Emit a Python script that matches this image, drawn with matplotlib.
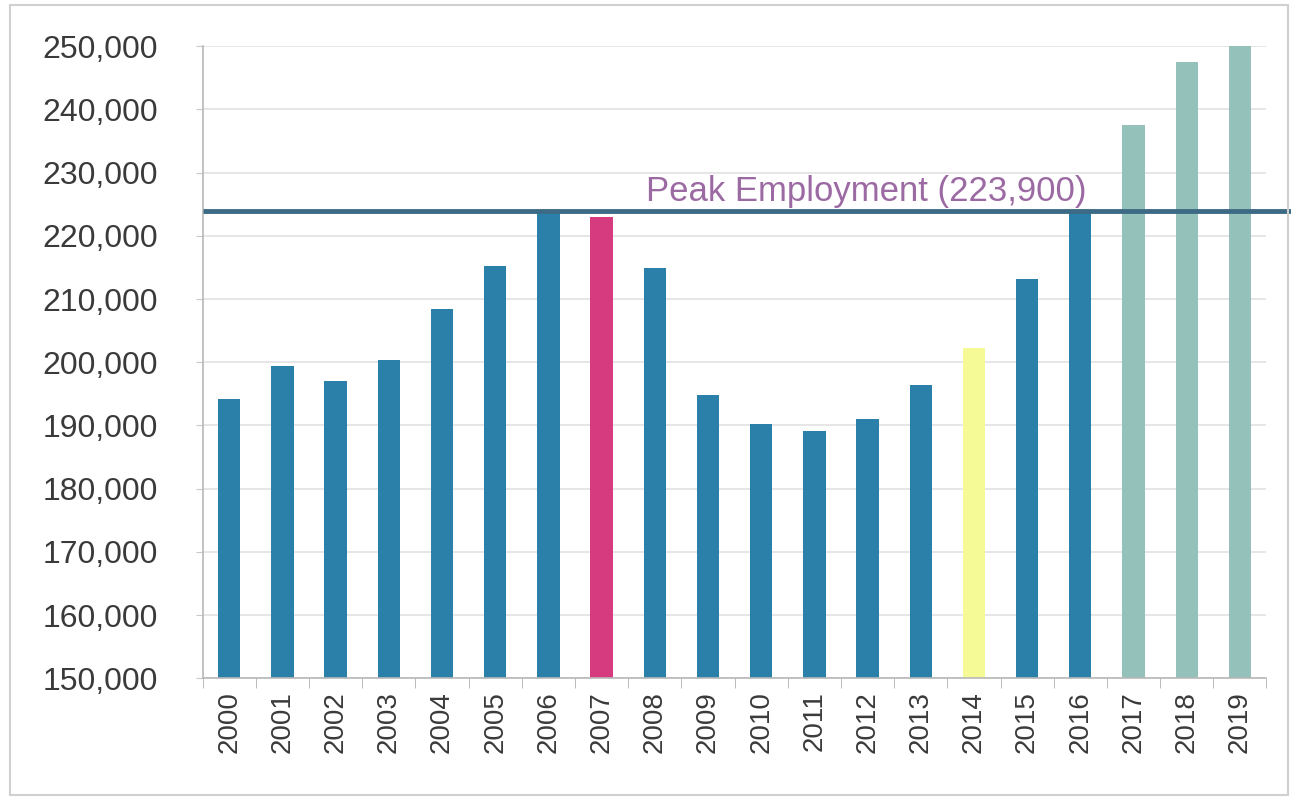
import matplotlib.pyplot as plt
from matplotlib.patches import Rectangle
from matplotlib.ticker import FuncFormatter, FixedLocator

years = [str(y) for y in range(2000, 2020)]
jobs = [194200, 199400, 197000, 200300, 208400, 215200, 223900, 223000,
        214900, 194900, 190200, 189200, 191100, 196400, 202300, 213100,
        223600, 237500, 247500, 250000]
peak = 223900

# colour groups: actual, recession start, current year, forecast
blue = '#2b80a9'
pink = '#d63b80'
yellow = '#f6fa96'
forecast = '#94c2bb'
bar_colors = [blue] * 7 + [pink] + [blue] * 6 + [yellow] + [blue] * 2 + [forecast] * 3

plt.rcParams['font.family'] = ['Liberation Sans', 'DejaVu Sans']

fig = plt.figure(figsize=(12.91, 7.98), dpi=100)
ax = fig.add_axes([0.157, 0.150, 0.824, 0.792])

x = range(len(years))
ax.bar(x, jobs, width=0.42, color=bar_colors, zorder=2)

ax.set_ylim(150000, 250000)
ax.set_xlim(-0.5, len(years) - 0.5)
ax.set_yticks(range(150000, 250001, 10000))
ax.yaxis.set_major_formatter(FuncFormatter(lambda v, p: '{:,.0f}'.format(v)))
ax.grid(axis='y', color='#e2e2e2', linewidth=1.2, zorder=0)

ax.set_xticks(list(x))
ax.set_xticklabels(years, rotation=90)
ax.xaxis.set_minor_locator(FixedLocator([i - 0.5 for i in range(len(years) + 1)]))
ax.tick_params(axis='x', which='major', length=0, pad=9, labelsize=20, labelcolor='#3a3a3a')
ax.tick_params(axis='x', which='minor', length=7, color='#b0b0b0')
ax.tick_params(axis='y', length=5, color='#c8c8c8', pad=27, labelsize=23, labelcolor='#3a3a3a')

for s in ['top', 'right']:
    ax.spines[s].set_visible(False)
for s in ['left', 'bottom']:
    ax.spines[s].set_color('#b8b8b8')
    ax.spines[s].set_linewidth(1.2)

# peak employment line runs past the right edge of the plot
ax.hlines(peak, -0.5, 20.3, color='#3d6b85', linewidth=3.5, zorder=3, clip_on=False)
ax.text(11.98, peak + 500, 'Peak Employment (223,900)', fontsize=25,
        color='#9c6aa3', ha='center', va='bottom', zorder=4)

# thin frame around the whole chart
fig.patches.append(Rectangle((0.008, 0.004), 0.99, 0.99, transform=fig.transFigure,
                             fill=False, edgecolor='#d0d0d0', linewidth=1.5))

fig.savefig('out.png', dpi=100)
